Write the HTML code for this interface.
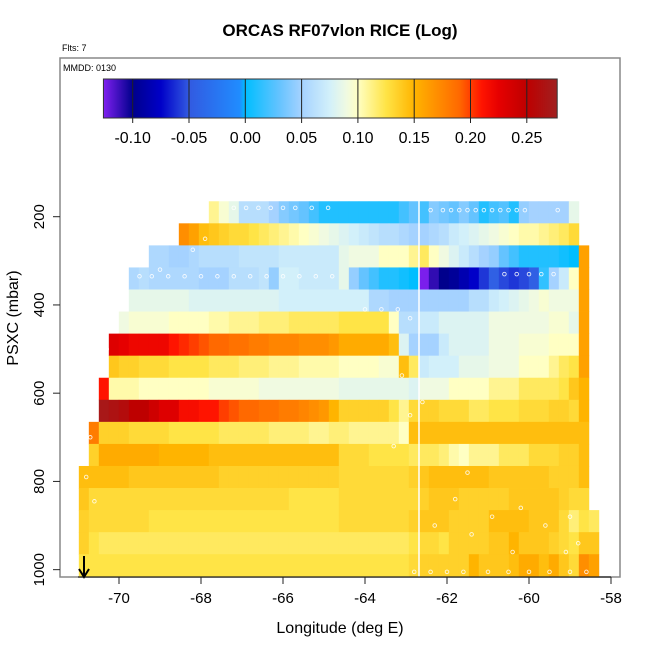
<!DOCTYPE html>
<html><head><meta charset="utf-8"><style>
body{margin:0;background:#fff;}
svg{display:block;font-family:"Liberation Sans",sans-serif;}
</style></head><body>
<svg id="chart" width="650" height="650" viewBox="0 0 650 650">
<text x="340" y="36" text-anchor="middle" font-size="17" font-weight="bold">ORCAS RF07vlon RICE (Log)</text>
<text x="62" y="51" font-size="9">Flts: 7</text>
<rect x="60" y="58" width="560" height="519" fill="none" stroke="#888" stroke-width="1.5"/>
<text x="63" y="71" font-size="9">MMDD: 0130</text>
<g id="cells"></g>
<line x1="419" y1="201" x2="419" y2="577" stroke="#fff" stroke-width="1.5"/>
<g id="pts"></g>
<g id="cbar"></g>
<g id="axes"></g>
<line x1="84" y1="556" x2="84" y2="576" stroke="#000" stroke-width="2"/>
<path d="M79,569 L84,577 L89,569" fill="none" stroke="#000" stroke-width="2"/>
<text x="340" y="633" text-anchor="middle" font-size="16">Longitude (deg E)</text>
<text transform="translate(18,318) rotate(-90)" text-anchor="middle" font-size="16">PSXC (mbar)</text>
</svg>
<script>
const xTicks=[-70,-68,-66,-64,-62,-60,-58];
const yTicks=[200,400,600,800,1000];
const cbTicks=[-0.10,-0.05,0.00,0.05,0.10,0.15,0.20,0.25];
const cbTickLabels=["-0.10","-0.05","0.00","0.05","0.10","0.15","0.20","0.25"];
const rowPressure=[190,240,290,340,390,440,490,540,590,640,690,740,790,840,890,940,990];
const rowStart=[13,10,7,5,5,4,3,3,2,2,1,1,0,0,0,0,0];
const rowRuns=[
[[0.11,1],[0.095,1],[0.085,1],[0.06,3],[0.05,1],[0.04,1],[0.035,1],[0.03,1],[0.02,1],[0.01,8],[0.02,1],[0.03,1],[0.02,1],[0.04,1],[0.035,1],[0.03,1],[0.04,1],[0.03,1],[0.01,1],[0.02,1],[0.025,1],[0.01,1],[0.045,1],[0.05,4],[0.085,1]],
[[0.17,1],[0.16,1],[0.145,1],[0.14,1],[0.135,1],[0.13,2],[0.125,1],[0.12,1],[0.115,1],[0.11,1],[0.105,1],[0.1,1],[0.095,1],[0.09,1],[0.085,1],[0.08,1],[0.075,1],[0.07,1],[0.065,1],[0.06,2],[0.055,1],[0.05,2],[0.055,1],[0.06,1],[0.07,1],[0.075,1],[0.08,1],[0.085,1],[0.09,1],[0.095,1],[0.1,1],[0.105,2],[0.11,1],[0.115,1],[0.12,1],[0.13,1]],
[[0.055,2],[0.05,2],[0.055,1],[0.06,4],[0.065,4],[0.07,6],[0.085,1],[0.09,3],[0.1,3],[0.11,1],[0.12,1],[0.1,1],[0.09,1],[0.08,1],[0.07,1],[0.06,1],[0.05,1],[0.045,1],[0.03,1],[0.02,1],[0.01,4],[0.005,1],[0.0,1],[0.16,1]],
[[0.055,1],[0.06,1],[0.055,5],[0.05,3],[0.06,3],[0.065,1],[0.045,1],[0.075,2],[0.07,4],[0.085,1],[0.045,1],[0.03,1],[0.02,1],[0.01,2],[0.005,1],[0.0,1],[-0.125,1],[-0.11,1],[-0.1,1],[-0.095,1],[-0.085,1],[-0.075,1],[-0.06,1],[-0.045,1],[-0.055,1],[-0.06,1],[-0.055,1],[-0.045,1],[0.015,1],[0.05,1],[0.07,1],[0.1,1],[0.16,1]],
[[0.085,6],[0.08,9],[0.075,9],[0.055,2],[0.05,8],[0.06,2],[0.07,1],[0.075,1],[0.08,1],[0.085,1],[0.09,1],[0.095,1],[0.09,3],[0.16,1]],
[[0.09,1],[0.095,4],[0.1,4],[0.105,2],[0.11,3],[0.115,3],[0.12,5],[0.125,5],[0.1,1],[0.06,2],[0.07,2],[0.08,5],[0.09,6],[0.095,2],[0.085,1],[0.16,1]],
[[0.23,1],[0.225,1],[0.22,4],[0.21,1],[0.205,1],[0.2,1],[0.195,1],[0.19,2],[0.185,2],[0.18,2],[0.175,3],[0.17,3],[0.165,1],[0.155,5],[0.145,1],[0.08,1],[0.05,3],[0.07,1],[0.08,4],[0.09,3],[0.095,3],[0.1,3],[0.16,1]],
[[0.14,1],[0.135,2],[0.13,3],[0.125,4],[0.12,3],[0.115,3],[0.11,3],[0.105,4],[0.1,4],[0.095,2],[0.145,1],[0.12,1],[0.07,1],[0.075,3],[0.085,3],[0.09,3],[0.1,3],[0.11,1],[0.12,1],[0.125,1],[0.16,1]],
[[0.21,1],[0.105,3],[0.1,7],[0.095,5],[0.09,8],[0.085,7],[0.08,1],[0.09,3],[0.1,4],[0.11,3],[0.12,4],[0.125,1],[0.14,1],[0.15,1]],
[[0.27,1],[0.265,1],[0.26,1],[0.25,2],[0.24,1],[0.23,2],[0.215,2],[0.21,2],[0.2,1],[0.195,1],[0.19,2],[0.185,2],[0.18,2],[0.175,1],[0.17,1],[0.165,1],[0.15,1],[0.135,5],[0.125,1],[0.11,1],[0.13,1],[0.135,2],[0.13,3],[0.12,2],[0.125,3],[0.13,3],[0.135,2],[0.13,1],[0.15,1]],
[[0.18,1],[0.135,3],[0.13,4],[0.125,5],[0.12,5],[0.115,4],[0.11,2],[0.115,2],[0.11,5],[0.1,1],[0.145,18]],
[[0.135,1],[0.155,6],[0.15,5],[0.145,13],[0.13,3],[0.125,4],[0.12,3],[0.115,1],[0.105,1],[0.1,1],[0.11,3],[0.12,3],[0.13,3],[0.135,2],[0.145,1]],
[[0.145,5],[0.14,9],[0.135,12],[0.13,7],[0.135,1],[0.14,1],[0.145,6],[0.14,6],[0.135,3],[0.145,1]],
[[0.14,1],[0.13,20],[0.125,5],[0.13,8],[0.135,1],[0.14,3],[0.135,5],[0.14,5],[0.135,1],[0.13,2]],
[[0.135,1],[0.13,6],[0.125,19],[0.13,7],[0.135,1],[0.14,3],[0.135,4],[0.145,4],[0.14,3],[0.13,1],[0.115,1],[0.125,1],[0.12,1]],
[[0.135,1],[0.125,1],[0.12,31],[0.125,1],[0.13,2],[0.125,1],[0.135,4],[0.14,2],[0.15,1],[0.14,3],[0.135,1],[0.13,1],[0.125,1],[0.14,2]],
[[0.125,33],[0.13,1],[0.135,5],[0.15,1],[0.14,3],[0.145,1],[0.155,2],[0.145,1],[0.155,1],[0.14,1],[0.13,1],[0.17,1],[0.16,1]]
];
const ptLon=[-67.2,-66.9,-66.6,-66.3,-66.0,-65.7,-65.3,-64.9,-62.4,-62.1,-61.9,-61.7,-61.5,-61.3,-61.1,-60.9,-60.7,-60.5,-60.3,-60.1,-59.3,-58.7,-67.9,-68.2,-69.0,-69.5,-69.2,-68.8,-68.4,-68.0,-67.6,-67.2,-66.8,-66.4,-66.0,-65.6,-65.2,-64.8,-60.6,-60.3,-60.0,-59.7,-59.4,-64.0,-63.6,-63.2,-62.9,-70.3,-70.5,-70.6,-70.7,-70.8,-70.6,-63.1,-62.9,-63.3,-62.6,-61.5,-60.2,-59.0,-58.8,-62.3,-61.8,-61.4,-60.9,-60.4,-59.6,-59.1,-62.8,-62.4,-62.0,-61.6,-61.0,-60.5,-60.0,-59.5,-59.0,-58.6];
const ptP=[180,180,180,180,180,180,180,180,185,185,185,185,185,185,185,185,185,185,185,185,185,185,250,275,320,335,335,335,335,335,335,335,335,335,335,335,335,335,330,330,330,330,330,410,410,410,430,500,510,620,700,790,845,560,650,720,620,780,860,880,940,900,840,920,880,960,900,960,1005,1005,1005,1005,1005,1005,1005,1005,1005,1005];
const cbStops=[[-0.126,[128,32,240]],[-0.10,[0,0,140]],[-0.075,[0,0,200]],[-0.05,[50,90,225]],[-0.005,[32,140,255]],[0.0,[0,190,255]],[0.03,[100,195,255]],[0.05,[165,210,255]],[0.075,[210,240,250]],[0.09,[240,250,225]],[0.10,[255,255,195]],[0.125,[255,228,70]],[0.15,[255,180,0]],[0.19,[255,105,0]],[0.21,[255,20,0]],[0.225,[230,0,0]],[0.25,[190,0,0]],[0.277,[160,32,32]]];
function color(v){
  if(v<=cbStops[0][0])return'rgb('+cbStops[0][1]+')';
  for(let i=1;i<cbStops.length;i++){
    if(v<=cbStops[i][0]){const a=cbStops[i-1],b=cbStops[i];const t=(v-a[0])/(b[0]-a[0]);
      return 'rgb('+a[1].map((c,k)=>Math.round(c+(b[1][k]-c)*t)).join(',')+')';}
  }
  return 'rgb('+cbStops[cbStops.length-1][1]+')';
}
const NS='http://www.w3.org/2000/svg';
const xs=lon=>119+(lon+70)*41;
const ys=p=>216.7+(p-200)*0.4412;
const lonStart=-70.98, dLon=10/41;
const cb=v=>132.7+(v+0.10)*(56.3/0.05);
function mk(tag,attrs,parent){const e=document.createElementNS(NS,tag);for(const k in attrs)e.setAttribute(k,attrs[k]);parent.appendChild(e);return e;}
const cells=document.getElementById('cells');
rowRuns.forEach((runs,r)=>{
  let c=rowStart[r];
  const y0=ys(rowPressure[r]-25), y1=ys(rowPressure[r]+25);
  runs.forEach(([v,n])=>{
    for(let k=0;k<n;k++){
      const x0=xs(lonStart+c*dLon), x1=xs(lonStart+(c+1)*dLon);
      const e=mk('rect',{x:x0.toFixed(2),y:y0.toFixed(2),width:(x1-x0+0.4).toFixed(2),height:(y1-y0+0.4).toFixed(2),fill:color(v)},cells);
      
      
      c++;
    }
  });
});
const pts=document.getElementById('pts');
ptLon.forEach((lon,i)=>{
  const e=mk('circle',{cx:xs(lon).toFixed(1),cy:ys(ptP[i]).toFixed(1),r:1.8,fill:'none',stroke:'#fff','stroke-width':0.9,opacity:0.85},pts);
  
  
});
// colorbar
const cbar=document.getElementById('cbar');
const defs=mk('defs',{},cbar);
const grad=mk('linearGradient',{id:'cbg',x1:0,x2:1,y1:0,y2:0},defs);
const cbMin=-0.126,cbMax=0.277;
cbStops.forEach(s=>{mk('stop',{offset:((s[0]-cbMin)/(cbMax-cbMin)).toFixed(4),'stop-color':'rgb('+s[1]+')'},grad);});
const cbr=mk('rect',{x:cb(cbMin),y:79,width:cb(cbMax)-cb(cbMin),height:39,fill:'url(#cbg)',stroke:'#333','stroke-width':1},cbar);


cbTicks.forEach((t,i)=>{
  const l=mk('line',{x1:cb(t),x2:cb(t),y1:79,y2:123,stroke:'#222','stroke-width':1},cbar);
  
  
  const tx=mk('text',{x:cb(t),y:143,'text-anchor':'middle','font-size':16},cbar);
  tx.textContent=cbTickLabels[i];
  
  
});
// axes
const axes=document.getElementById('axes');
const xl=mk('line',{x1:xs(-71),x2:xs(-58),y1:577,y2:577,stroke:'#222','stroke-width':1.2},axes);


xTicks.forEach(t=>{
  const l=mk('line',{x1:xs(t),x2:xs(t),y1:577,y2:584,stroke:'#222','stroke-width':1},axes);
  
  
  const tx=mk('text',{x:xs(t),y:603,'text-anchor':'middle','font-size':15},axes);
  tx.textContent=String(t);
  
  
});
yTicks.forEach(t=>{
  const y=ys(t);
  const l=mk('line',{x1:53,x2:60,y1:y,y2:y,stroke:'#222','stroke-width':1},axes);
  
  
  const tx=mk('text',{transform:'translate(44,'+y.toFixed(1)+') rotate(-90)','text-anchor':'middle','font-size':15},axes);
  tx.textContent=String(t);
  
  
});
</script>
</body></html>
